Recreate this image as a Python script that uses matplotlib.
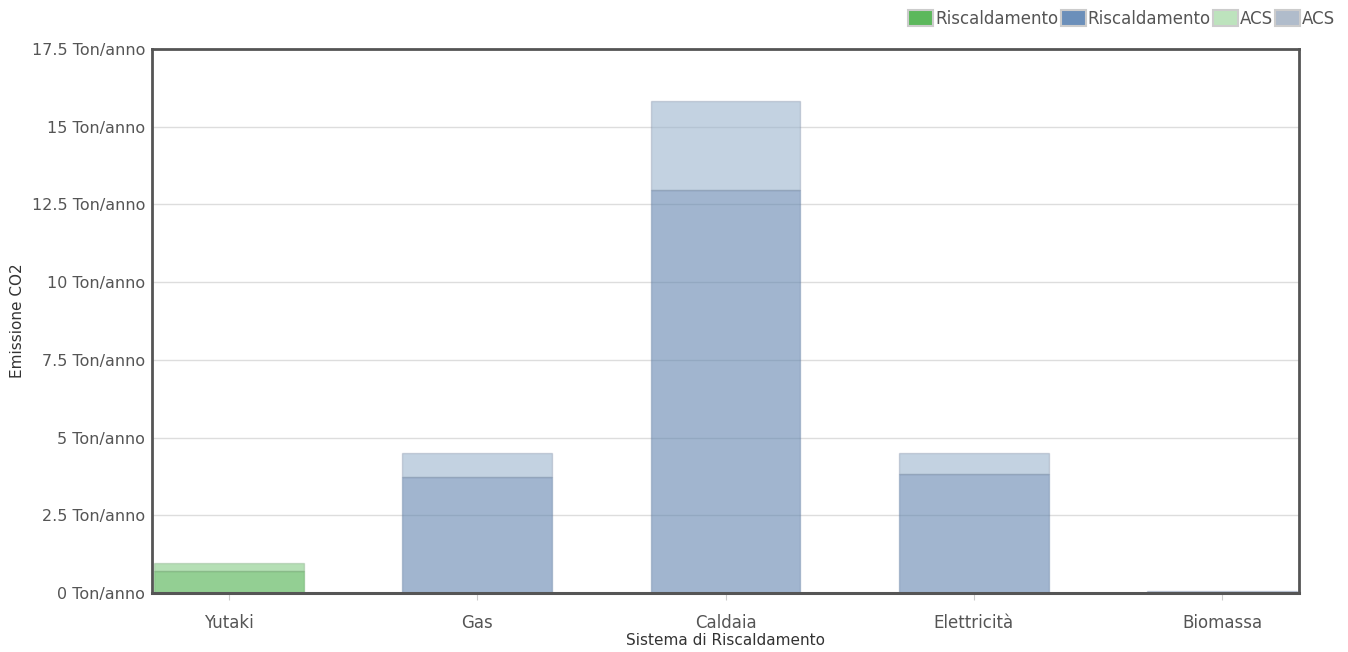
import matplotlib
matplotlib.use("Agg")
import matplotlib.pyplot as plt
from matplotlib.patches import Patch
import numpy as np

# Emissioni annue di CO2 per sistema di riscaldamento (Ton/anno)
categories = ["Yutaki", "Gas", "Caldaia", "Elettricità", "Biomassa"]
heating = [0.72, 3.74, 12.96, 3.82, 0.04]
acs = [0.24, 0.75, 2.87, 0.67, 0.03]
yticks = [0, 2.5, 5, 7.5, 10, 12.5, 15, 17.5]

plt.rcParams["font.family"] = ["DejaVu Sans"]

fig = plt.figure(figsize=(13.48, 6.52), dpi=100)
ax = fig.add_axes([152 / 1348, 1 - 593 / 652, 1147 / 1348, 544 / 652])

x = np.arange(len(categories))
width = 0.604

# Yutaki in verde, gli altri sistemi in blu
heat_cols = [(0.294, 0.686, 0.294, 0.6)] + [(0.384, 0.522, 0.686, 0.6)] * 4
acs_cols = [(0.518, 0.792, 0.518, 0.6)] + [(0.608, 0.706, 0.804, 0.6)] * 4
heat_edge = [(0.3, 0.6, 0.3, 0.35)] + [(0.35, 0.45, 0.6, 0.35)] * 4
acs_edge = [(0.45, 0.6, 0.45, 0.3)] + [(0.45, 0.5, 0.6, 0.3)] * 4

ax.bar(x, heating, width, color=heat_cols, edgecolor=heat_edge, linewidth=1, zorder=2)
ax.bar(x, acs, width, bottom=heating, color=acs_cols, edgecolor=acs_edge,
       linewidth=1, zorder=2)

ax.set_xlim(-0.31, len(categories) - 1 + 0.31)
ax.set_ylim(0, 17.5)
ax.set_yticks(yticks)
ax.set_yticklabels([f"{v:g} Ton/anno" for v in yticks])
ax.set_xticks(x)
ax.set_xticklabels(categories)

ax.grid(axis="y", color="#dddddd", linewidth=1, zorder=0)
ax.set_axisbelow(True)

for side in ["left", "top", "right"]:
    ax.spines[side].set_color("#555555")
    ax.spines[side].set_linewidth(2)
ax.spines["bottom"].set_color("#555555")
ax.spines["bottom"].set_linewidth(2.2)

ax.tick_params(axis="y", length=0, pad=5, labelsize=11.5, labelcolor="#555555")
ax.tick_params(axis="x", length=5, width=0.8, color="#cccccc", pad=10,
               labelsize=12, labelcolor="#555555")

ax.set_xlabel("Sistema di Riscaldamento", fontsize=11, color="#333333", labelpad=0.5)
ax.set_ylabel("Emissione CO2", fontsize=11, color="#333333", labelpad=5)

handles = [
    Patch(facecolor="#5cb85c", edgecolor="#cccccc", linewidth=1.5, label="Riscaldamento"),
    Patch(facecolor="#6b8fba", edgecolor="#cccccc", linewidth=1.5, label="Riscaldamento"),
    Patch(facecolor="#bde3bd", edgecolor="#cccccc", linewidth=1.5, label="ACS"),
    Patch(facecolor="#b0bccb", edgecolor="#cccccc", linewidth=1.5, label="ACS"),
]
leg = fig.legend(handles=handles, loc="upper right", bbox_to_anchor=(0.999, 1.003),
                 ncol=4, frameon=False, fontsize=12, handlelength=1.5,
                 handleheight=1.15, handletextpad=0.1, columnspacing=0.15,
                 borderaxespad=0.3)
for t in leg.get_texts():
    t.set_color("#555555")

fig.savefig("out.png", dpi=100)
